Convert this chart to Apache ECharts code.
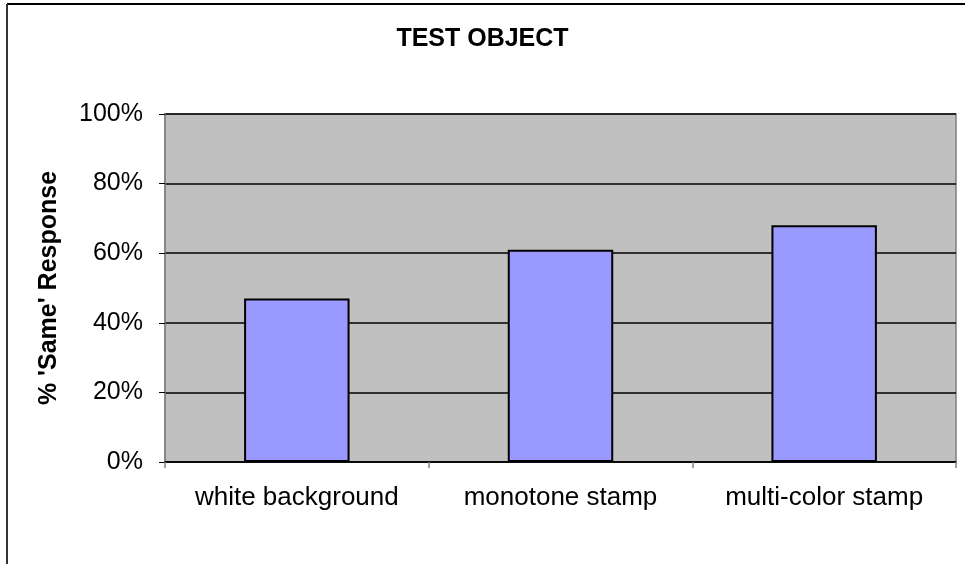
<!DOCTYPE html>
<html>
<head>
<meta charset="utf-8">
<script src="https://cdn.jsdelivr.net/npm/echarts@6/dist/echarts.min.js"></script>
<style>
  html, body { margin: 0; padding: 0; background: #fff; }
  #chart { width: 965px; height: 564px; }
</style>
</head>
<body>
<div id="chart"></div>
<script>
// 分类
const categories = ['white background', 'monotone stamp', 'multi-color stamp']
// 数值（比例）
const sameResponse = [0.47, 0.61, 0.68]
// 纵轴刻度
const yTicks = [0, 0.2, 0.4, 0.6, 0.8, 1]

const chart = echarts.init(document.getElementById('chart'))
const font = '"Liberation Sans", Arial, sans-serif'

const option = {
  animation: false,
  backgroundColor: '#fff',
  title: {
    text: 'TEST OBJECT',
    left: 'center',
    top: 22,
    textStyle: { fontFamily: font, fontSize: 25, fontWeight: 'bold', color: '#000' }
  },
  graphic: [
    { type: 'line', shape: { x1: 7, y1: 4, x2: 965, y2: 4 }, style: { stroke: '#000', lineWidth: 2 } },
    { type: 'line', shape: { x1: 7, y1: 4, x2: 7, y2: 564 }, style: { stroke: '#333', lineWidth: 2 } }
  ],
  grid: {
    left: 165,
    right: 9,
    top: 114,
    bottom: 102,
    show: true,
    backgroundColor: '#C0C0C0',
    borderColor: '#808080',
    borderWidth: 1.5
  },
  xAxis: {
    type: 'category',
    data: categories,
    axisLine: { lineStyle: { color: '#000', width: 1.5 } },
    axisTick: { show: true, interval: 0, length: 6, lineStyle: { color: '#808080', width: 1.5 } },
    axisLabel: { interval: 0, margin: 23, fontFamily: font, fontSize: 26, color: '#000' },
    splitLine: { show: false }
  },
  yAxis: {
    type: 'value',
    min: yTicks[0],
    max: yTicks[yTicks.length - 1],
    interval: 0.2,
    name: "% 'Same' Response",
    nameLocation: 'middle',
    nameMoveOverlap: false,
    nameGap: 103,
    nameTextStyle: { fontFamily: font, fontSize: 25, fontWeight: 'bold', color: '#000' },
    axisLine: { show: true, lineStyle: { color: '#808080', width: 1.5 } },
    axisTick: { show: true, length: 6, lineStyle: { color: '#000', width: 1 } },
    axisLabel: {
      margin: 22,
      fontFamily: font,
      fontSize: 25,
      color: '#000',
      formatter: (v) => Math.round(v * 100) + '%'
    },
    splitLine: { show: true, lineStyle: { color: '#000', width: 1.5 } }
  },
  series: [
    {
      type: 'bar',
      data: sameResponse,
      barWidth: '40%',
      itemStyle: { color: '#9999FF', borderColor: '#000', borderWidth: 2 }
    }
  ]
}
chart.setOption(option)
</script>
</body>
</html>
